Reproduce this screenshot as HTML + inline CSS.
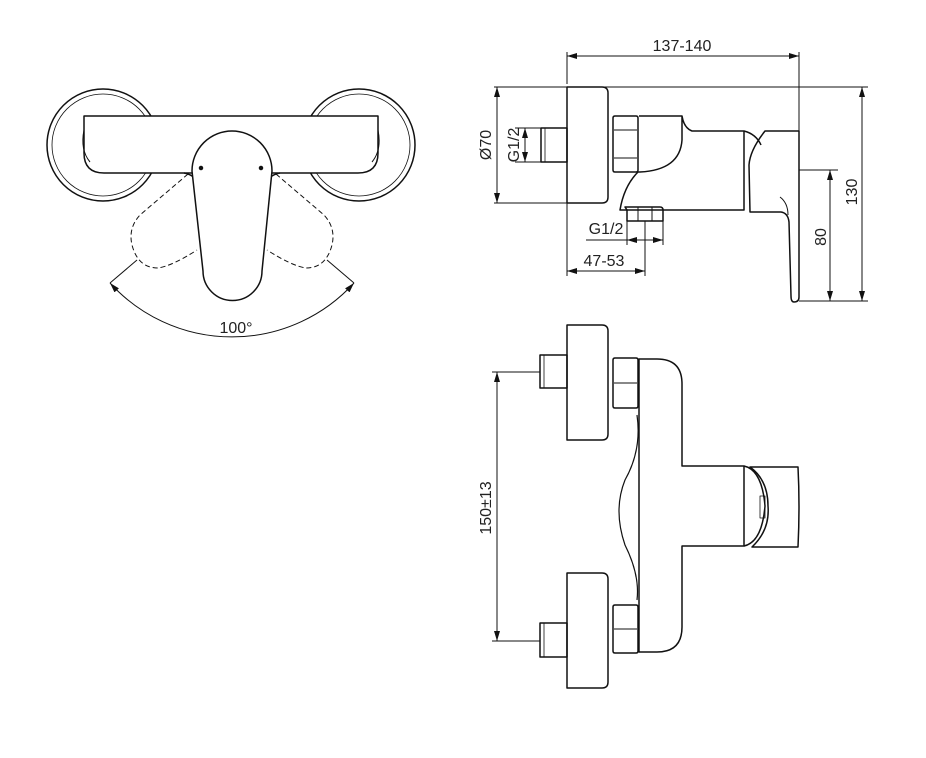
<!DOCTYPE html>
<html><head><meta charset="utf-8"><style>
html,body{margin:0;padding:0;background:#fff;}
svg{display:block;}
text{font-family:"Liberation Sans",sans-serif;fill:#222;}
</style></head><body>
<svg width="926" height="758" viewBox="0 0 926 758" xmlns="http://www.w3.org/2000/svg">
<defs>
<marker id="a" viewBox="0 0 10 6" refX="10" refY="3" markerWidth="10" markerHeight="6" orient="auto-start-reverse" markerUnits="userSpaceOnUse"><path d="M0,0 L10,3 L0,6 z" fill="#111"/></marker>
</defs>
<g fill="none" stroke="#111" stroke-width="1.5" stroke-linejoin="round">
<!-- TOP-LEFT VIEW -->
<circle cx="103" cy="145" r="56"/>
<circle cx="103" cy="145" r="51" stroke-width="0.8"/>
<circle cx="359" cy="145" r="56"/>
<circle cx="359" cy="145" r="51" stroke-width="0.8"/>
<path d="M84,116 H378 V153 Q378,173 358,173 H104 Q84,173 84,153 Z" fill="#fff"/>
<path d="M84,130 Q80,150 90,162" stroke-width="1"/>
<path d="M378,130 Q382,150 372,162" stroke-width="1"/>
<path d="M184,173 Q196,175 202,188"/>
<path d="M280,173 Q268,175 262,188"/>
<path d="M192,171 A40,40 0 0 1 272,171 L262,271 A29.5,29.5 0 0 1 203,271 Z" fill="#fff"/>
<circle cx="201" cy="168" r="1.5" fill="#111"/>
<circle cx="261" cy="168" r="1.5" fill="#111"/>
<g stroke-dasharray="5,3" stroke-width="1">
<path d="M188,174 L140,215 Q128,228 132,245 Q138,268 158,268 Q172,266 197,250"/>
<path d="M276,174 L324,215 Q336,228 332,245 Q326,268 306,268 Q292,266 267,250"/>
</g>
<g stroke-width="1">
<line x1="137" y1="260" x2="110" y2="283"/>
<line x1="327" y1="260" x2="354" y2="283"/>
<path d="M110,283 A165,165 0 0 0 354,283" marker-start="url(#a)" marker-end="url(#a)"/>
</g>

<!-- SIDE VIEW -->
<g stroke-width="1">
<line x1="567" y1="52" x2="567" y2="84"/>
<line x1="799" y1="52" x2="799" y2="131"/>
<line x1="567" y1="56" x2="799" y2="56" marker-start="url(#a)" marker-end="url(#a)"/>
<line x1="494" y1="87" x2="868" y2="87"/>
<line x1="494" y1="203" x2="567" y2="203"/>
<line x1="497" y1="87" x2="497" y2="203" marker-start="url(#a)" marker-end="url(#a)"/>
<line x1="515" y1="128" x2="541" y2="128"/>
<line x1="515" y1="162" x2="541" y2="162"/>
<line x1="525" y1="128" x2="525" y2="162" marker-start="url(#a)" marker-end="url(#a)"/>
<line x1="799" y1="170" x2="838" y2="170"/>
<line x1="799" y1="301" x2="868" y2="301"/>
<line x1="830" y1="170" x2="830" y2="301" marker-start="url(#a)" marker-end="url(#a)"/>
<line x1="862" y1="87" x2="862" y2="301" marker-start="url(#a)" marker-end="url(#a)"/>
<line x1="627" y1="221" x2="627" y2="245"/>
<line x1="663" y1="221" x2="663" y2="245"/>
<line x1="586" y1="240" x2="627" y2="240"/>
<line x1="627" y1="240" x2="645" y2="240" marker-start="url(#a)"/>
<line x1="645" y1="240" x2="663" y2="240" marker-end="url(#a)"/>
<line x1="567" y1="203" x2="567" y2="276"/>
<line x1="645" y1="221" x2="645" y2="276"/>
<line x1="567" y1="271" x2="645" y2="271" marker-start="url(#a)" marker-end="url(#a)"/>
</g>
<rect x="541" y="128" width="26" height="34"/>
<line x1="545" y1="128" x2="545" y2="162" stroke-width="0.8"/>
<path d="M567,87 H602 Q608,87 608,93 V197 Q608,203 602,203 H567 Z"/>
<path d="M613,118 Q613,116 615,116 H636 Q638,116 638,118 V170 Q638,172 636,172 H615 Q613,172 613,170 Z"/>
<path d="M614,130 H637 M614,158 H637" stroke-width="1"/>
<path d="M639,116 H682 Q684,128 692,131 H744 V210 H620 Q624,186 638,172 H640 Q680,170 682,140 V116"/>
<path d="M625,207 H660 Q663,207 663,210 V221 H627 V210 Z"/>
<line x1="638" y1="207" x2="638" y2="221" stroke-width="1"/>
<line x1="652" y1="207" x2="652" y2="221" stroke-width="1"/>
<path d="M744,131 Q756,134 761,145"/>
<path d="M765,131 H799 V297 Q799,302 794,302 Q791,302 791,296 L789,222 Q788,213 781,212 H750 L749,165 Q750,150 765,131 Z"/>
<path d="M780,197 Q788,203 788,215" stroke-width="1"/>

<!-- FRONT VIEW -->
<g stroke-width="1">
<line x1="492" y1="372" x2="540" y2="372"/>
<line x1="492" y1="641" x2="540" y2="641"/>
<line x1="497" y1="372" x2="497" y2="641" marker-start="url(#a)" marker-end="url(#a)"/>
</g>
<path d="M567,325 H602 Q608,325 608,331 V434 Q608,440 602,440 H567 Z"/>
<path d="M567,573 H602 Q608,573 608,579 V682 Q608,688 602,688 H567 Z"/>
<rect x="540" y="355" width="27" height="33"/>
<line x1="544" y1="355" x2="544" y2="388" stroke-width="0.8"/>
<rect x="540" y="623" width="27" height="34"/>
<line x1="544" y1="623" x2="544" y2="657" stroke-width="0.8"/>
<path d="M613,360 Q613,358 615,358 H636 Q638,358 638,360 V406 Q638,408 636,408 H615 Q613,408 613,406 Z"/>
<path d="M614,383 H637" stroke-width="1"/>
<path d="M613,607 Q613,605 615,605 H636 Q638,605 638,607 V651 Q638,653 636,653 H615 Q613,653 613,651 Z"/>
<path d="M614,629 H637" stroke-width="1"/>
<path d="M639,359 H657 Q682,359 682,384 V466 H744 V546 H682 V627 Q682,652 657,652 H639 Z"/>
<path d="M637,415 Q642,450 625,480 Q613,510 625,545 Q640,575 637,600" stroke-width="1.2"/>
<path d="M744,466 Q762,470 765,506 Q762,542 744,546"/>
<path d="M750,467 H798 Q800,506 798,547 H752 Q770,530 768,506 Q768,480 750,467 Z"/>
<rect x="760" y="496" width="5" height="22" stroke-width="0.8"/>
</g>
<g font-size="16">
<text x="682" y="51" text-anchor="middle">137-140</text>
<text x="606" y="234" text-anchor="middle">G1/2</text>
<text x="604" y="266" text-anchor="middle">47-53</text>
<text x="236" y="333" text-anchor="middle">100°</text>
<text transform="translate(491,145) rotate(-90)" text-anchor="middle">Ø70</text>
<text transform="translate(519,145) rotate(-90)" text-anchor="middle">G1/2</text>
<text transform="translate(826,237) rotate(-90)" text-anchor="middle">80</text>
<text transform="translate(857,192) rotate(-90)" text-anchor="middle">130</text>
<text transform="translate(491,508) rotate(-90)" text-anchor="middle">150±13</text>
</g>
</svg>
</body></html>
